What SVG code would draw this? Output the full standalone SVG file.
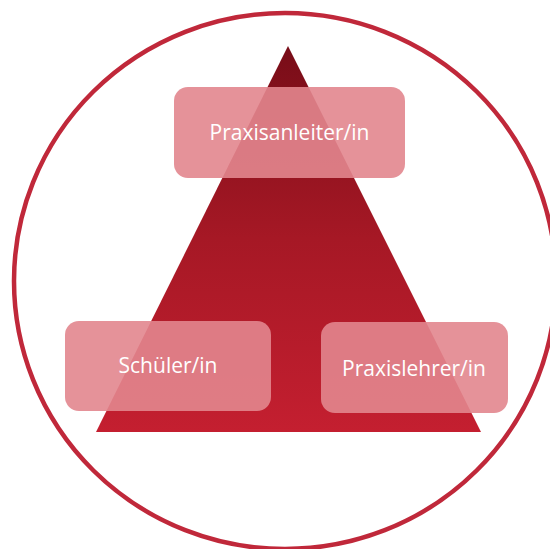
<svg xmlns="http://www.w3.org/2000/svg" width="550" height="549" viewBox="0 0 550 549">
  <defs>
    <linearGradient id="tri" x1="0" y1="46" x2="0" y2="432" gradientUnits="userSpaceOnUse">
      <stop offset="0" stop-color="#780d18"/>
      <stop offset="0.5" stop-color="#a61825"/>
      <stop offset="1" stop-color="#c41f30"/>
    </linearGradient>
  </defs>
  <style>
    .box { fill: #e2868e; fill-opacity: 0.9; }
    .lbl { font-family: "Open Sans", "Noto Sans", "Liberation Sans", sans-serif; font-size: 21px; fill: #ffffff; text-anchor: middle; }
  </style>
  <rect width="550" height="549" fill="#ffffff"/>
  <ellipse cx="285" cy="281" rx="271" ry="268" fill="none" stroke="#c0283a" stroke-width="4.5"/>
  <polygon points="288,46 481,432 96,432" fill="url(#tri)"/>
  <g id="praxisanleiter">
    <rect class="box" x="174" y="87" width="231" height="91" rx="14"/>
    <text class="lbl" x="289.5" y="140">Praxisanleiter/in</text>
  </g>
  <g id="schueler">
    <rect class="box" x="65" y="321" width="206" height="90" rx="14"/>
    <text class="lbl" x="168" y="373">Schüler/in</text>
  </g>
  <g id="praxislehrer">
    <rect class="box" x="321" y="322" width="187" height="91" rx="14"/>
    <text class="lbl" x="414" y="376">Praxislehrer/in</text>
  </g>
</svg>
